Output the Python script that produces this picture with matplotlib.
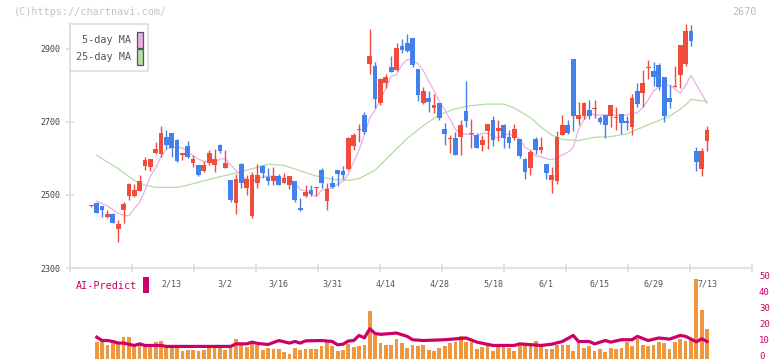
import matplotlib
matplotlib.use("Agg")
import matplotlib.pyplot as plt
from matplotlib.patches import Rectangle
from matplotlib.transforms import ScaledTranslation
import numpy as np

# ---------------- data ----------------
opens = [2470, 2478, 2469, 2440, 2449, 2408, 2459, 2497, 2497, 2512,
         2580, 2578, 2614, 2612, 2658, 2670, 2651, 2610, 2633, 2588,
         2582, 2567, 2587, 2581, 2637, 2573, 2541, 2479, 2585, 2520,
         2443, 2534, 2580, 2549, 2539, 2552, 2534, 2528, 2537, 2463,
         2497, 2514, 2519, 2568, 2484, 2533, 2569, 2565, 2571, 2634,
         2679, 2719, 2860, 2853, 2753, 2808, 2851, 2842, 2908, 2917,
         2930, 2845, 2751, 2765, 2739, 2752, 2682, 2654, 2656, 2660,
         2731, 2666, 2665, 2637, 2676, 2705, 2676, 2692, 2659, 2656,
         2653, 2599, 2575, 2653, 2624, 2585, 2541, 2539, 2664, 2692,
         2873, 2707, 2716, 2733, 2736, 2712, 2719, 2717, 2712, 2722,
         2704, 2687, 2786, 2779, 2848, 2840, 2856, 2823, 2765, 2797,
         2829, 2859, 2949, 2621, 2571, 2649]
highs = [2473, 2480, 2470, 2460, 2452, 2432, 2481, 2533, 2530, 2554,
         2603, 2598, 2645, 2689, 2678, 2670, 2654, 2616, 2648, 2610,
         2582, 2594, 2623, 2625, 2640, 2623, 2541, 2558, 2587, 2555,
         2563, 2585, 2582, 2574, 2577, 2558, 2560, 2552, 2537, 2492,
         2527, 2528, 2521, 2574, 2534, 2552, 2569, 2580, 2660, 2669,
         2694, 2727, 2955, 2864, 2820, 2832, 2881, 2917, 2927, 2941,
         2930, 2845, 2797, 2785, 2777, 2752, 2697, 2665, 2672, 2706,
         2812, 2708, 2670, 2664, 2694, 2715, 2705, 2694, 2678, 2694,
         2653, 2600, 2622, 2659, 2659, 2585, 2578, 2674, 2719, 2705,
         2873, 2756, 2756, 2760, 2759, 2715, 2720, 2746, 2742, 2722,
         2715, 2777, 2806, 2841, 2870, 2864, 2862, 2823, 2801, 2853,
         2911, 2969, 2966, 2632, 2629, 2689]
lows = [2466, 2451, 2440, 2437, 2422, 2372, 2423, 2485, 2495, 2510,
        2568, 2567, 2612, 2605, 2625, 2603, 2590, 2596, 2600, 2577,
        2552, 2562, 2583, 2564, 2614, 2573, 2482, 2449, 2519, 2499,
        2438, 2519, 2546, 2528, 2528, 2526, 2532, 2517, 2481, 2455,
        2494, 2497, 2497, 2518, 2459, 2519, 2525, 2545, 2568, 2623,
        2646, 2667, 2832, 2739, 2747, 2792, 2838, 2840, 2888, 2892,
        2850, 2758, 2749, 2728, 2724, 2705, 2638, 2616, 2610, 2610,
        2687, 2628, 2630, 2621, 2625, 2633, 2649, 2629, 2629, 2651,
        2601, 2545, 2556, 2612, 2616, 2543, 2505, 2531, 2664, 2666,
        2676, 2692, 2707, 2707, 2710, 2695, 2657, 2687, 2678, 2667,
        2678, 2665, 2740, 2742, 2818, 2799, 2787, 2701, 2739, 2797,
        2792, 2852, 2907, 2567, 2551, 2621]
closes = [2472, 2451, 2459, 2448, 2424, 2420, 2475, 2530, 2513, 2538,
          2595, 2598, 2626, 2670, 2638, 2628, 2594, 2616, 2605, 2598,
          2556, 2582, 2614, 2598, 2621, 2587, 2485, 2544, 2534, 2544,
          2555, 2555, 2561, 2539, 2552, 2528, 2547, 2552, 2487, 2459,
          2508, 2504, 2521, 2532, 2517, 2522, 2558, 2555, 2656, 2664,
          2681, 2673, 2881, 2764, 2817, 2823, 2838, 2903, 2898, 2895,
          2855, 2775, 2785, 2756, 2747, 2712, 2666, 2656, 2610, 2692,
          2704, 2668, 2630, 2651, 2694, 2651, 2684, 2657, 2643, 2681,
          2607, 2564, 2618, 2624, 2632, 2559, 2554, 2659, 2692, 2671,
          2715, 2719, 2753, 2715, 2738, 2699, 2693, 2746, 2714, 2698,
          2698, 2767, 2748, 2807, 2850, 2824, 2797, 2715, 2756, 2799,
          2911, 2949, 2923, 2589, 2621, 2678]

# volume (10k shares), candles 1..115
volume = [10.3, 10.7, 8.2, 10.7, 9.7, 13.4, 13.4, 8.2, 9.7, 8.2,
          8.2, 10.3, 11.3, 8.8, 7.1, 6.7, 4.6, 5.2, 5.2, 4.6,
          5.2, 8.8, 8.8, 6.7, 5.2, 6.7, 12.0, 8.2, 7.1, 10.7,
          8.2, 5.2, 6.3, 5.7, 5.7, 3.8, 3.1, 6.9, 5.2, 5.7,
          6.1, 5.7, 7.6, 10.3, 7.6, 4.6, 5.2, 9.2, 7.1, 7.8,
          8.8, 29.6, 14.5, 9.7, 8.8, 8.2, 12.0, 9.7, 6.7, 8.2,
          7.6, 8.8, 5.5, 4.6, 6.7, 7.6, 9.7, 10.3, 13.9, 10.3,
          10.3, 5.7, 7.1, 8.2, 5.0, 7.1, 7.1, 6.7, 4.6, 8.2,
          8.2, 7.6, 11.3, 8.2, 6.1, 6.1, 8.2, 8.8, 8.2, 5.0,
          11.8, 6.7, 7.6, 4.6, 6.1, 4.0, 6.7, 6.1, 6.7, 10.3,
          7.6, 12.0, 8.2, 7.6, 8.2, 10.3, 9.7, 6.1, 10.3, 12.0,
          11.3, 12.0, 49.7, 30.2, 18.3]
vol_start = 1

ma5_idx = [1, 2, 3, 4, 5, 6, 7, 8, 9, 10, 11, 12, 13, 14, 15, 16, 17, 18, 19, 20,
           21, 22, 23, 24, 25, 26, 27, 28, 29, 30, 31, 32, 33, 34, 35, 36, 37, 38, 39, 40,
           41, 42, 43, 44, 45, 46, 47, 48, 49, 50, 51, 52, 53, 54, 55, 56, 57, 58, 59, 60,
           61, 62, 63, 64, 65, 66, 67, 68, 69, 70, 71, 72, 73, 74, 75, 76, 77, 78, 79, 80,
           81, 82, 83, 84, 85, 86, 87, 88, 89, 90, 91, 92, 93, 94, 95, 96, 97, 98, 99, 100,
           101, 102, 103, 104, 105, 106, 107, 108, 109, 110, 111, 112, 113, 114, 115]
ma5_val = [2484, 2476, 2470, 2460, 2450, 2444, 2443, 2462, 2480, 2513,
           2551, 2574, 2605, 2625, 2630, 2631, 2629, 2617, 2608, 2598,
           2592, 2591, 2590, 2598, 2600, 2583, 2567, 2554, 2542, 2537,
           2544, 2550, 2551, 2552, 2547, 2545, 2546, 2533, 2515, 2511,
           2502, 2496, 2513, 2517, 2519, 2530, 2537, 2557, 2591, 2623,
           2666, 2711, 2733, 2763, 2792, 2825, 2829, 2856, 2871, 2870,
           2860, 2840, 2812, 2785, 2755, 2733, 2707, 2680, 2668, 2666,
           2666, 2661, 2669, 2669, 2661, 2656, 2667, 2666, 2663, 2654,
           2630, 2623, 2607, 2605, 2599, 2597, 2602, 2610, 2617, 2630,
           2680, 2705, 2722, 2720, 2719, 2719, 2719, 2718, 2719, 2719,
           2724, 2725, 2740, 2760, 2785, 2797, 2801, 2801, 2790, 2779,
           2800, 2828, 2802, 2777, 2751]

ma25_idx = [1, 3, 5, 8, 10, 12, 16, 18, 20, 24, 27, 30, 33, 36, 39, 42, 45, 48, 50,
            53, 56, 59, 62, 65, 68, 71, 74, 77, 79, 82, 84, 86, 88, 91, 94, 97, 100,
            102, 105, 108, 110, 111, 112, 113, 115]
ma25_val = [2609, 2590, 2572, 2540, 2527, 2521, 2521, 2527, 2535, 2550, 2560, 2572,
            2584, 2581, 2566, 2552, 2543, 2540, 2545, 2568, 2612, 2655, 2690, 2720,
            2736, 2745, 2749, 2749, 2738, 2712, 2686, 2664, 2652, 2649, 2658, 2660,
            2667, 2680, 2698, 2716, 2735, 2747, 2762, 2760, 2756]

ai_idx = [1, 2, 3, 4, 5, 6, 8, 9, 10, 13, 14, 26, 27, 29, 30, 31, 33, 35, 37, 38,
          39, 40, 43, 45, 46, 47, 48, 49, 50, 51, 52, 53, 54, 57, 59, 60, 62, 66, 70,
          72, 75, 79, 80, 84, 86, 88, 90, 91, 93, 94, 96, 97, 99, 101, 102, 104, 106,
          108, 110, 111, 113, 114, 115]
ai_val = [13.4, 11.3, 11.3, 10.7, 9.7, 9.7, 8.2, 9.2, 8.2, 8.2, 7.6, 7.6, 9.2, 9.2,
          10.3, 9.5, 8.8, 11.3, 9.7, 10.7, 9.7, 11.1, 11.3, 10.7, 8.6, 9.0, 11.0, 11.3,
          14.5, 13.0, 18.7, 15.7, 15.2, 16.0, 13.9, 11.8, 11.3, 11.8, 12.9, 10.3, 8.2,
          8.2, 9.2, 8.2, 9.0, 10.7, 14.5, 10.7, 10.7, 9.2, 11.3, 10.3, 11.8, 11.8, 13.9,
          11.3, 12.9, 12.2, 14.5, 13.9, 10.5, 12.4, 10.7]

date_idx = [15, 25, 35, 45, 55, 65, 75, 85, 95, 105, 115]
date_labels = ["2/13", "3/2", "3/16", "3/31", "4/14", "4/28", "5/18", "6/1", "6/15", "6/29", "7/13"]
price_ticks = [2300, 2500, 2700, 2900]
vol_ticks = [0, 10, 20, 30, 40, 50]
last_price = "2670"
legend_labels = ["5-day MA", "25-day MA"]

# ---------------- styling ----------------
W, H = 772, 361
MONO = "DejaVu Sans Mono"
RED = "#f04c3c"
BLUE = "#4480ec"
ORANGE = "#f0963c"
CRIMSON = "#cc0066"
PINK = "#e8b0e8"
GREEN = "#b4dca4"
GRID = "#dddddd"

XMIN, XMAX = -4.0, 123.4
YMIN, YMAX = 2300, 2970

fig = plt.figure(figsize=(W / 100, H / 100), dpi=100)
fig.patch.set_facecolor("white")


def fx(px):
    return px / W


def fy(py):
    return 1 - py / H


# main price axes
ax = fig.add_axes([fx(70), fy(268), fx(752) - fx(70), fy(23.4) - fy(268)])
ax.set_xlim(XMIN, XMAX)
ax.set_ylim(YMIN, YMAX)
for s in ["top", "right"]:
    ax.spines[s].set_visible(False)
for s in ["left", "bottom"]:
    ax.spines[s].set_color(GRID)
    ax.spines[s].set_linewidth(1.2)

o = np.array(opens, float)
h = np.array(highs, float)
l = np.array(lows, float)
c = np.array(closes, float)
idx = np.arange(len(o))
cols = [RED if cc >= oo else BLUE for oo, cc in zip(o, c)]
ax.vlines(idx, l, h, colors=cols, linewidth=1.0, zorder=2)
bottoms = np.minimum(o, c)
heights = np.maximum(np.abs(c - o), 2.8)
ax.bar(idx, heights, bottom=bottoms, width=0.88, color=cols, linewidth=0, zorder=3)

ax.plot(ma25_idx, ma25_val, color=GREEN, lw=0.9, zorder=1)
ax.plot(ma5_idx, ma5_val, color=PINK, lw=0.9, zorder=1)

ax.set_yticks(price_ticks)
ax.set_yticklabels([str(t) for t in price_ticks], fontsize=6, color="#444444", family=MONO)
ax.tick_params(axis="y", direction="inout", length=6, width=1.2, color=GRID, pad=4)

ax.set_xticks(np.linspace(XMIN, XMAX, 12))
ax.set_xticklabels([])
ax.tick_params(axis="x", which="major", direction="inout", length=6, width=1.2, color=GRID)
ax.set_xticks(date_idx, minor=True)
ax.set_xticklabels(date_labels, minor=True, fontsize=6, color="#555555", family=MONO)
ax.tick_params(axis="x", which="minor", length=0, pad=8)

# volume / AI axes
ax2 = fig.add_axes([fx(70), fy(358.5), fx(752) - fx(70), fy(279) - fy(358.5)])
ax2.set_xlim(XMIN, XMAX)
ax2.set_ylim(0, 50)
for s in ax2.spines.values():
    s.set_visible(False)
ax2.patch.set_alpha(0)
vidx = np.arange(vol_start, vol_start + len(volume))
ax2.bar(vidx, volume, width=0.7, color=ORANGE, linewidth=0, zorder=2)
ax2.plot(ai_idx, ai_val, color=CRIMSON, lw=2.3, zorder=3, solid_joinstyle="round")
ax2.set_xticks([])
ax2.yaxis.tick_right()
ax2.set_yticks(vol_ticks)
ax2.set_yticklabels([str(t) for t in vol_ticks], fontsize=6.5, color=CRIMSON, family=MONO)
ax2.tick_params(axis="y", length=0, pad=5)
shift = ScaledTranslation(0, 2.5 / 72, fig.dpi_scale_trans)
for lab in ax2.get_yticklabels():
    lab.set_transform(lab.get_transform() + shift)

# texts
fig.text(fx(14), fy(12), "(C)https://chartnavi.com/", fontsize=7.3, color="#c4c4c4",
         family=MONO, va="center", ha="left")
fig.text(fx(757), fy(12), last_price, fontsize=7.3, color="#bbbbbb", family=MONO,
         va="center", ha="right")
fig.text(fx(76), fy(286), "AI-Predict", fontsize=7.3, color=CRIMSON, family=MONO,
         va="center", ha="left")
fig.add_artist(Rectangle((fx(142.5), fy(293)), fx(6), 16 / H, transform=fig.transFigure,
                         facecolor=CRIMSON, edgecolor="none", zorder=5))

# legend box
fig.add_artist(Rectangle((fx(70), fy(71)), fx(78), 47 / H, transform=fig.transFigure,
                         facecolor="white", edgecolor=GRID, linewidth=1.2, zorder=5))
sw_cols = [PINK, GREEN]
for k, (lab, sc) in enumerate(zip(legend_labels, sw_cols)):
    yc = 40 + 17 * k
    fig.text(fx(131), fy(yc), lab, fontsize=7.3, color="#555555", family=MONO,
             va="center", ha="right", zorder=6)
    fig.add_artist(Rectangle((fx(136.5), fy(yc + 7.5)), fx(6), 15 / H,
                             transform=fig.transFigure, facecolor=sc,
                             edgecolor="#555555", linewidth=0.9, zorder=6))

fig.savefig("out.png", dpi=100, facecolor="white")
